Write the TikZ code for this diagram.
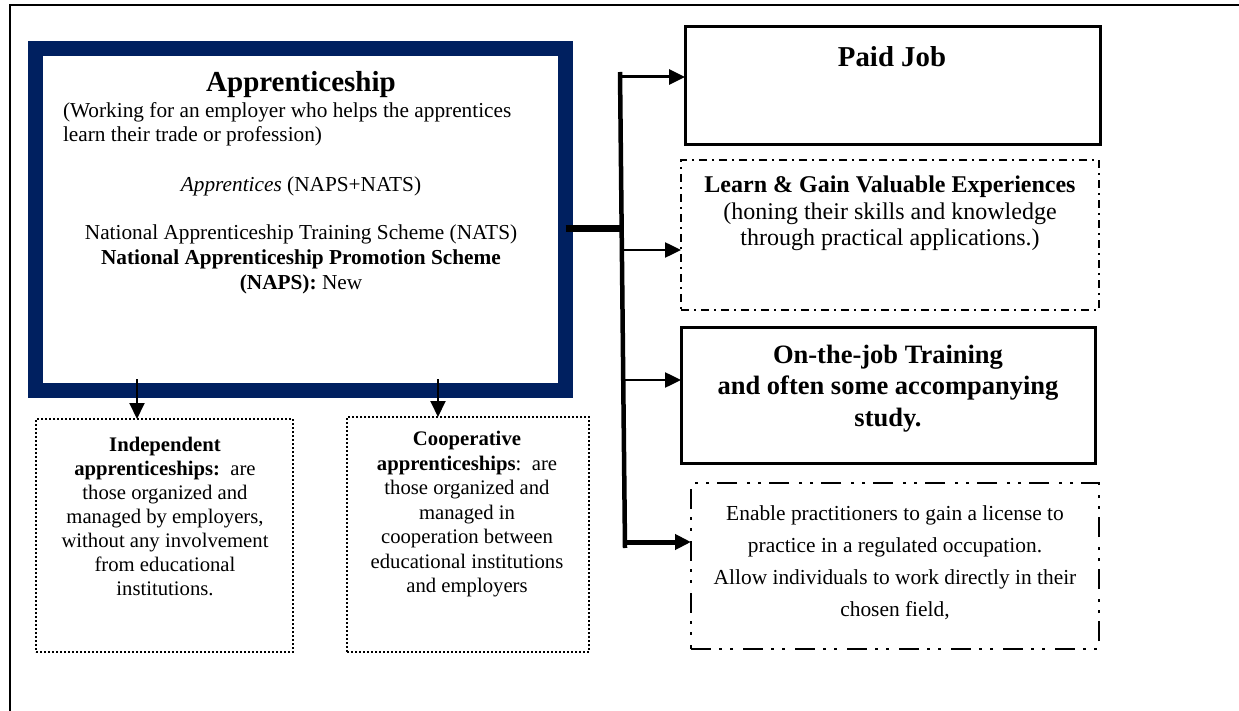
\documentclass[tikz,border=0pt]{standalone}
\usepackage{fontspec}
\setmainfont{Liberation Serif}
\usetikzlibrary{arrows.meta}
\definecolor{navy}{HTML}{002060}
\newcommand\setfs[2]{\fontsize{#1pt}{#2pt}\selectfont}
\begin{document}
\begin{tikzpicture}[x=1pt,y=-1pt,
  box/.style={rectangle,inner sep=0pt,outer sep=0pt,anchor=north west},
  solidbox/.style={box,draw=black,line width=3pt},
  dashdotbox/.style={box,draw=black,line width=2pt,dash pattern=on 8pt off 5pt on 2pt off 5pt},
  dashdotdotbox/.style={box,draw=black,line width=2.5pt,dash pattern=on 20pt off 8pt on 3pt off 8pt on 3pt off 10pt},
  dotbox/.style={box,draw=black,line width=2.2pt,dash pattern=on 2pt off 2pt},
  txt/.style={inner sep=0pt,outer sep=0pt,align=center},
  arr/.style={line width=3pt,-{Triangle[length=16pt,width=15pt]}},
]
\useasboundingbox (0,0) rectangle (1239,711);
% outer frame (top and left only)
\draw[line width=2.5pt] (10,711) -- (10,5) -- (1239,5);

% boxes
\node[box,draw=navy,line width=15pt,minimum width=530pt,minimum height=342pt] (app) at (35.5,48.5) {};
\node[solidbox,minimum width=415pt,minimum height=118pt] (paid) at (685,27) {};
\node[dashdotbox,minimum width=418pt,minimum height=150pt] (learn) at (681,160) {};
\node[solidbox,minimum width=414pt,minimum height=136pt] (ojt) at (681,327) {};
\node[dashdotdotbox,minimum width=408pt,minimum height=166pt] (lic) at (691,483) {};
\node[dotbox,minimum width=257pt,minimum height=233pt] (ind) at (36,419) {};
\node[dotbox,minimum width=242pt,minimum height=235pt] (coop) at (347,417) {};

% texts
\node[txt,font=\setfs{29}{34}\bfseries] (apptitle) at (301,85) {Apprenticeship};
\node[txt,anchor=west,align=left,font=\setfs{21.3}{23.5}] (appdesc) at (63,124.5) {(Working for an employer who helps the apprentices\\learn their trade or profession)};
\node[txt,font=\setfs{21.3}{24}] (appnames) at (301,186) {\textit{Apprentices} (NAPS+NATS)};
\node[txt,font=\setfs{21.3}{25}] (appschemes) at (301,259) {National Apprenticeship Training Scheme (NATS)\\\textbf{National Apprenticeship Promotion Scheme}\\\textbf{(NAPS):} New};
\node[txt,font=\setfs{28.8}{34}\bfseries] (paidtxt) at (892,57) {Paid Job};
\node[txt,font=\setfs{24}{26.5}] (learntxt) at (890,213.5) {\textbf{Learn \& Gain Valuable Experiences}\\(honing their skills and knowledge\\through practical applications.)};
\node[txt,font=\setfs{26.5}{31.5}\bfseries] (ojttxt) at (888,388.5) {On-the-job Training\\and often some accompanying\\study.};
\node[txt,font=\setfs{21.4}{32}] (lictxt) at (895,563) {Enable practitioners to gain a license to\\practice in a regulated occupation.\\Allow individuals to work directly in their\\chosen field,};
\node[txt,font=\setfs{20.7}{24}] (indtxt) at (165,516) {\textbf{Independent}\\\textbf{apprenticeships:}\ \ are\\those organized and\\managed by employers,\\without any involvement\\from educational\\institutions.};
\node[txt,font=\setfs{20.7}{24.5}] (cooptxt) at (467,514.5) {\textbf{Cooperative}\\\textbf{apprenticeships}:\ \ are\\those organized and\\managed in\\cooperation between\\educational institutions\\and employers};

% bus and connectors
\coordinate (bustop) at (620,72);
\coordinate (busbot) at (625,548);
\coordinate (bj) at (621.6,229);
\coordinate (b1) at (620.05,77);
\coordinate (b2) at (621.9,250);
\coordinate (b3) at (623.2,380);
\coordinate (b4) at (624.9,542);
\draw[line width=4.5pt] (bustop) -- (busbot);
\draw[line width=7pt] (app.east |- bj) -- (bj);
\draw[arr] (b1) -- (b1 -| paid.west);
\draw[arr,line width=2.5pt] (b2) -- (b2 -| learn.west);
\draw[arr,line width=2.5pt] (b3) -- (b3 -| ojt.west);
\draw[arr,line width=5pt] (b4) -- (b4 -| lic.west);
\coordinate (d1) at (137,379);
\coordinate (d2) at (438,379);
\draw[arr,line width=2pt] (d1) -- (d1 |- ind.north);
\draw[arr,line width=2pt] (d2) -- (d2 |- coop.north);
\end{tikzpicture}
\end{document}
